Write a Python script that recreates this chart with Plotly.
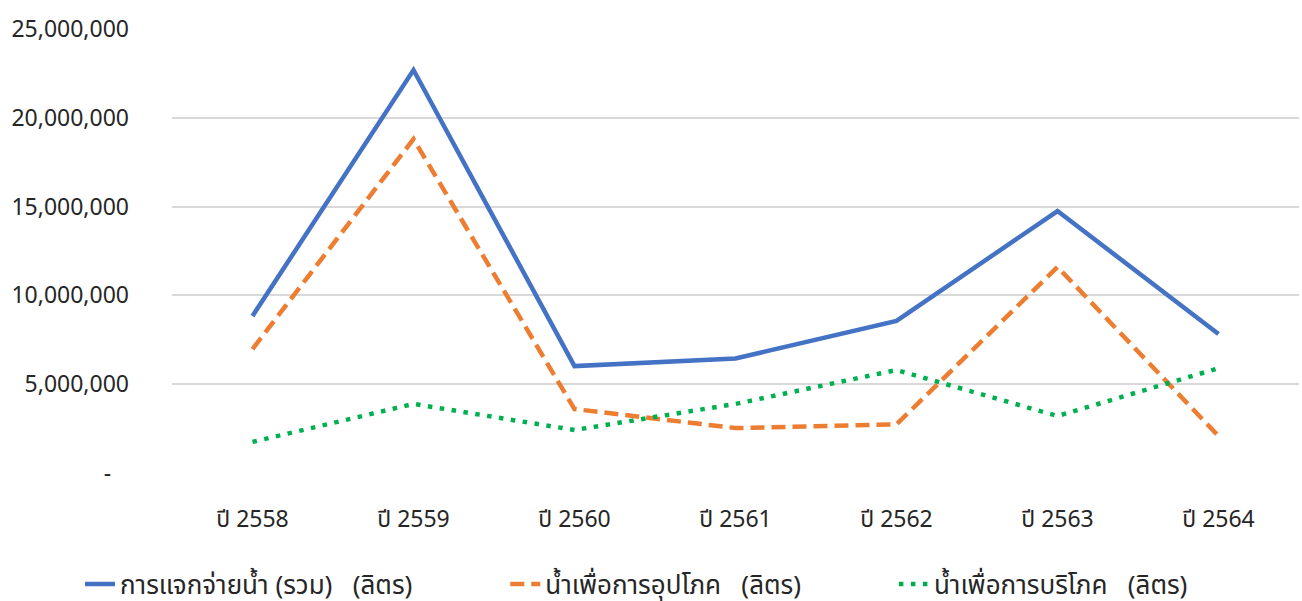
import plotly.graph_objects as go

categories = ["ปี 2558", "ปี 2559", "ปี 2560", "ปี 2561", "ปี 2562", "ปี 2563", "ปี 2564"]
total = [8840000, 22690000, 6020000, 6450000, 8560000, 14750000, 7830000]
consumption = [6980000, 18800000, 3600000, 2530000, 2740000, 11600000, 2080000]
drinking = [1750000, 3890000, 2420000, 3890000, 5800000, 3210000, 5900000]
nb = "\u00a0"
names = ["การแจกจ่ายน้ำ (รวม)" + nb * 3 + "(ลิตร)" + nb * 13,
         "น้ำเพื่อการอุปโภค" + nb * 3 + "(ลิตร)" + nb * 13,
         "น้ำเพื่อการบริโภค" + nb * 3 + "(ลิตร)"]
tick_vals = [0, 5000000, 10000000, 15000000, 20000000, 25000000]
tick_text = ["-" + nb * 3, "5,000,000", "10,000,000", "15,000,000", "20,000,000", "25,000,000"]

font_family = "Noto Sans, Noto Sans Thai, sans-serif"

fig = go.Figure()
fig.add_trace(go.Scatter(x=categories, y=total, mode="lines", name=names[0],
                         line=dict(color="#4472C4", width=4.5)))
fig.add_trace(go.Scatter(x=categories, y=consumption, mode="lines", name=names[1],
                         line=dict(color="#ED7D31", width=4.5, dash="14px,7px")))
fig.add_trace(go.Scatter(x=categories, y=drinking, mode="lines", name=names[2],
                         line=dict(color="#00B050", width=4.5, dash="4.5px,7.5px")))

fig.update_layout(
    width=1302, height=601,
    margin=dict(l=172, r=3, t=29, b=128, autoexpand=False),
    paper_bgcolor="white", plot_bgcolor="white",
    font=dict(family=font_family, size=22, color="#262626"),
    showlegend=True,
    legend=dict(orientation="h", xref="container", x=80 / 1302, xanchor="left",
                yref="container", y=0.028, yanchor="middle",
                font=dict(size=26, color="#262626"),
                traceorder="normal"),
)
fig.update_xaxes(type="category", range=[-0.5, 6.5], showgrid=False, showline=False,
                 zeroline=False, ticks="", ticklabelstandoff=30, automargin=False,
                 tickfont=dict(size=23, color="#262626"))
fig.update_yaxes(range=[0, 25000000], tickvals=tick_vals, ticktext=tick_text,
                 showgrid=True, gridcolor="#D9D9D9", gridwidth=1.5, zeroline=False,
                 showline=False, ticks="", ticklabelstandoff=42, automargin=False,
                 tickfont=dict(size=23, color="#262626"))

fig.write_html("out.html", config={"displayModeBar": False},
               post_script="document.body.style.margin='0';document.body.style.overflow='hidden';")
